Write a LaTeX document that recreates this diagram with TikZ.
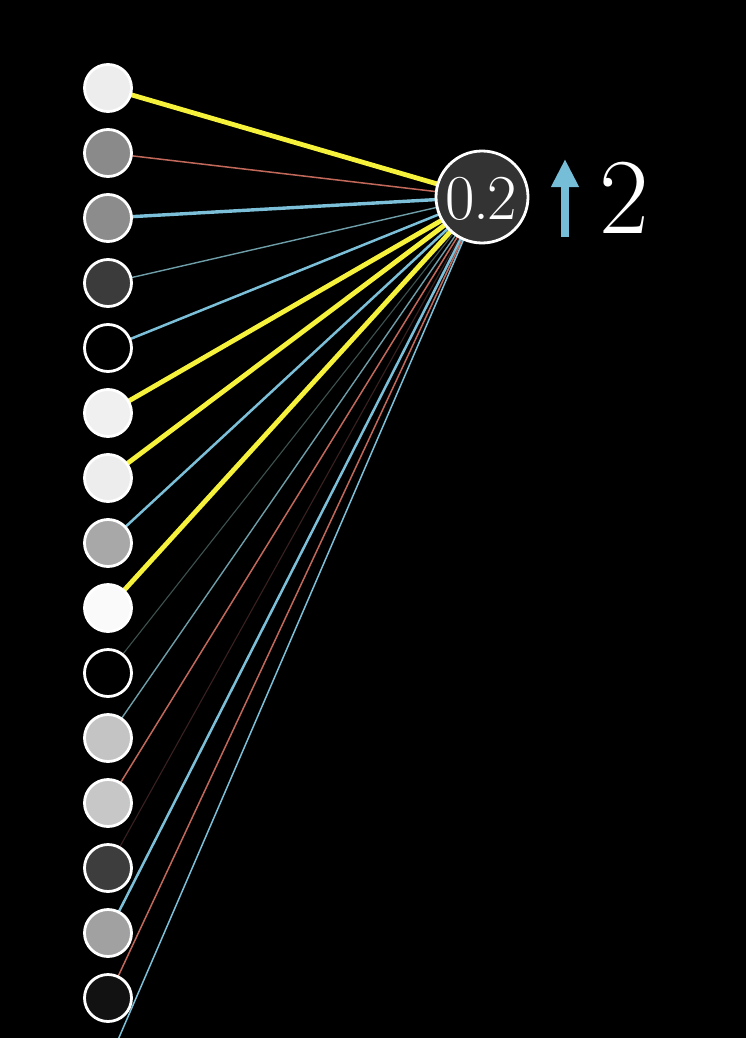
\documentclass[tikz,border=0pt]{standalone}
\usetikzlibrary{arrows.meta}
\definecolor{wyel}{HTML}{F6F23C}
\definecolor{wblue}{HTML}{7BC0D8}
\definecolor{wred}{HTML}{C2685A}
\definecolor{wdim}{HTML}{3E5250}
\definecolor{wdimr}{HTML}{3A2020}
\definecolor{wbg}{HTML}{6E9EA8}
\definecolor{arrblue}{HTML}{76BED8}
\definecolor{neurfill}{HTML}{333333}
\pgfdeclarelayer{back}
\pgfsetlayers{back,main}
\begin{document}
\begin{tikzpicture}[x=1pt,y=-1pt,
  inp/.style={circle,draw=white,line width=2.8pt,minimum size=47pt,inner sep=0pt},
  outn/.style={circle,draw=white,line width=2.8pt,minimum size=92pt,inner sep=0pt,fill=neurfill,text=white},
  ythick/.style={wyel,line width=4.8pt},
  bthick/.style={wblue,line width=3.4pt},
  bmid/.style={wblue,line width=2.5pt},
  bthin/.style={wblue,line width=1.5pt},
  bgthin/.style={wbg,line width=1.4pt},
  rthin/.style={wred,line width=1.5pt},
  dimline/.style={wdim,line width=1.1pt},
  dimred/.style={wdimr,line width=1.1pt}]
\clip (0,0) rectangle (746,1038);
\begin{pgfonlayer}{back}
\fill[black] (0,0) rectangle (746,1038);
\end{pgfonlayer}
\foreach \i/\g in {1/93,2/54,3/55,4/23,5/0,6/94,7/93,8/66,9/98,10/0,11/77,12/78,13/24,14/63,15/7,16/80}{
  \node[inp,fill=white!\g!black] (c\i) at (108,{88+65*(\i-1)}) {};
}
\node[outn] (n) at (482,197) {};
\node[text=white,inner sep=0pt] (val) at (481,199) {\fontsize{64}{64}\selectfont 0\kern-1.5pt.\kern-1.5pt2};
\begin{pgfonlayer}{back}
\foreach \i/\s in {1/ythick,2/rthin,3/bthick,4/bgthin,5/bmid,6/ythick,7/ythick,8/bmid,9/ythick,10/dimline,11/bgthin,12/rthin,13/dimred,14/bmid,15/rthin,16/bthin}{
  \draw[\s] (c\i.center) -- (n.center);
}
\end{pgfonlayer}
\coordinate (a1) at (565,237);
\coordinate (a2) at (565,159);
\draw[arrblue,line width=8pt,-{Triangle[width=26pt,length=28pt]}] (a1) -- (a2);
\node[text=white,inner sep=0pt] (two) at (624.5,198) {\fontsize{108}{108}\selectfont 2};
\end{tikzpicture}
\end{document}
